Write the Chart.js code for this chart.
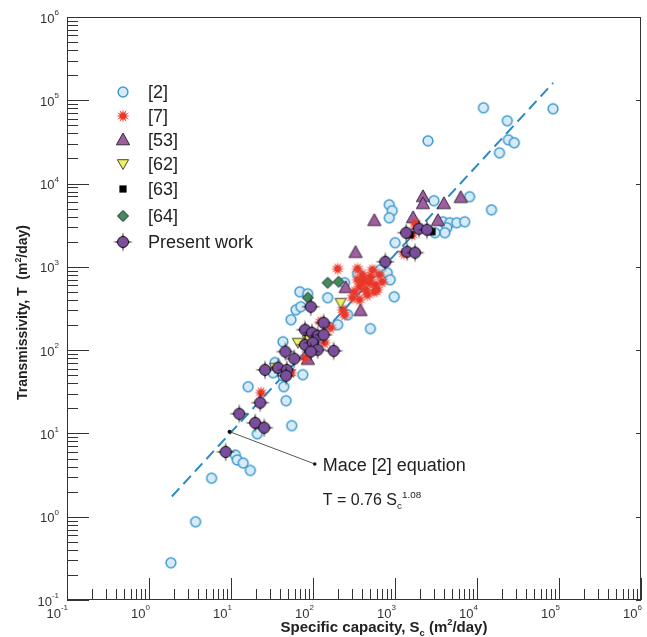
<!DOCTYPE html>
<html>
<head>
<meta charset="utf-8">
<script src="https://cdn.jsdelivr.net/npm/chart.js@4.4.0/dist/chart.umd.min.js"></script>
<style>
  body { margin: 0; background: #fff; }
</style>
</head>
<body>
<canvas id="plot" width="647" height="637"></canvas>
<script>
// values: specific capacity Sc and transmissivity T, both m2/day
const ref2Sc = [1.85, 3.7, 5.8, 11.3, 11.9, 14.1, 17.2, 20.9, 55, 47, 16.2, 44, 75, 43, 34.5, 32.6, 43, 54, 62, 71, 69, 86, 151, 243, 264, 200, 501, 349, 662, 805, 875, 978, 1005, 851, 925, 851, 2985, 8128, 3836, 4660, 5662, 7077, 4288, 4056, 3069, 15000, 2523, 12000, 84600, 23400, 24100, 28500, 18800];
const ref2T  = [0.28, 0.87, 2.9, 5.5, 4.8, 4.4, 3.6, 9.9, 12.4, 24.7, 36.4, 36.4, 50.7, 49, 71, 53.6, 126, 232, 305, 332, 502, 475, 426, 644, 266, 202, 181, 826, 923, 849, 700, 437, 1950, 5560, 4720, 3880, 6220, 6950, 3480, 3380, 3380, 3480, 2950, 2570, 2570, 4840, 32600, 81300, 79100, 56700, 33500, 30900, 23400];

const ref7Sc = [200, 1857, 1616, 1758, 1291, 230, 243, 124, 164, 139, 80, 54, 23.3, 349, 424, 369, 321, 501, 576, 461, 644, 401, 530, 609, 303, 369, 440, 490, 700, 560, 401, 349];
const ref7T  = [948, 3030, 2430, 3290, 1440, 305, 266, 219, 186, 123, 81, 53.6, 30.8, 948, 700, 577, 502, 761, 609, 462, 804, 804, 923, 531, 426, 403, 531, 644, 662, 502, 644, 700];

const ref53Sc = [2195, 2195, 3945, 6327, 1661, 3337, 560, 330, 250, 379, 86.5];
const ref53T  = [6940, 5720, 5720, 6760, 3880, 3580, 3580, 1480, 561, 297, 77];

const ref62Sc = [217, 65.5, 86.5, 34.5];
const ref62T  = [371, 123, 133, 61.5];

const ref63Sc = [1528, 2594, 2821];
const ref63T  = [2430, 2710, 2640];

const ref64Sc = [151, 205, 86.5];
const ref64T  = [644, 662, 426];

const presentSc = [94, 135, 80, 97, 114, 135, 46, 80, 99.5, 114, 94, 179, 59, 26, 37.5, 48, 47, 22.7, 12.6, 19.7, 25.4, 8.6, 1367, 1963, 2454, 1406, 1758, 761];
const presentT  = [332, 213, 176, 162, 149, 153, 96, 116, 123, 101, 96, 98, 79, 58, 61.5, 58, 49.3, 23.4, 17.2, 13.4, 11.7, 6.0, 2570, 2870, 2790, 1520, 1480, 1150];

// Mace [2] equation line, ends as drawn
const maceSc = [1.9, 85000];
const maceT  = [1.75, 162000];

const seriesNames = ['[2]', '[7]', '[53]', '[62]', '[63]', '[64]', 'Present work'];
const decades = [-1, 0, 1, 2, 3, 4, 5, 6];

function pts(xs, ys) { return xs.map((v, i) => ({ x: v, y: ys[i] })); }

function marker(kind) {
  const c = document.createElement('canvas');
  c.width = 24; c.height = 24;
  const g = c.getContext('2d');
  g.translate(12, 12);
  g.lineJoin = 'round';
  function poly(p) { g.beginPath(); g.moveTo(p[0], p[1]); for (let i = 2; i < p.length; i += 2) g.lineTo(p[i], p[i + 1]); g.closePath(); }
  if (kind === 'circle') {
    g.beginPath(); g.arc(0, 0, 4.9, 0, Math.PI * 2);
    g.fillStyle = '#d6ebf7'; g.fill();
    g.strokeStyle = '#3f9bd0'; g.lineWidth = 1.5; g.stroke();
  } else if (kind === 'burst') {
    const p = [];
    for (let i = 0; i < 24; i++) {
      const r = i % 2 ? 3 : 7;
      const a = i * Math.PI / 12;
      p.push(r * Math.cos(a), r * Math.sin(a));
    }
    poly(p); g.fillStyle = '#e8392b'; g.fill();
  } else if (kind === 'up') {
    poly([0, -7, 6.6, 4.8, -6.6, 4.8]);
    g.fillStyle = '#9e5f9f'; g.fill();
    g.strokeStyle = '#3a2440'; g.lineWidth = 1; g.stroke();
  } else if (kind === 'down') {
    poly([0, 5.5, 5.6, -4.3, -5.6, -4.3]);
    g.fillStyle = '#eef25c'; g.fill();
    g.strokeStyle = '#444'; g.lineWidth = 1; g.stroke();
  } else if (kind === 'square') {
    g.fillStyle = '#000'; g.fillRect(-3.6, -3.6, 7.2, 7.2);
  } else if (kind === 'diamond') {
    poly([0, -5.5, 5.5, 0, 0, 5.5, -5.5, 0]);
    g.fillStyle = '#3f8d5e'; g.fill();
    g.strokeStyle = '#222'; g.lineWidth = 1; g.stroke();
  } else if (kind === 'present') {
    poly([0, -10, 1.5, -1.5, 10, 0, 1.5, 1.5, 0, 10, -1.5, 1.5, -10, 0, -1.5, -1.5]);
    g.fillStyle = '#1c1c1c'; g.fill();
    g.beginPath(); g.arc(0, 0, 5.5, 0, Math.PI * 2);
    g.fillStyle = '#7a4e9c'; g.fill();
    g.strokeStyle = '#111'; g.lineWidth = 1; g.stroke();
  }
  return c;
}

const markers = ['circle', 'burst', 'up', 'down', 'square', 'diamond', 'present'].map(marker);

const FONT = '"Liberation Sans", Arial, sans-serif';

function drawPow(ctx, e, xRight, yMid) {
  ctx.font = '13px ' + FONT;
  const base = '10', ex = String(e);
  const wb = ctx.measureText(base).width;
  ctx.font = '8px ' + FONT;
  const we = ctx.measureText(ex).width;
  const x0 = xRight - wb - we;
  ctx.font = '13px ' + FONT;
  ctx.textBaseline = 'middle';
  ctx.textAlign = 'left';
  ctx.fillText(base, x0, yMid + 1);
  ctx.font = '8px ' + FONT;
  ctx.fillText(ex, x0 + wb, yMid - 5);
}

// parts: [text, 0 normal | 1 superscript | -1 subscript]
function mixed(ctx, parts, x, y, size, weight, align) {
  const f = s => weight + ' ' + s + 'px ' + FONT;
  const w = parts.map(p => { ctx.font = f(p[1] ? size * 0.62 : size); return ctx.measureText(p[0]).width; });
  const total = w.reduce((q, r) => q + r, 0);
  let cx = align === 'center' ? x - total / 2 : x;
  ctx.textAlign = 'left';
  ctx.textBaseline = 'alphabetic';
  parts.forEach((p, i) => {
    ctx.font = f(p[1] ? size * 0.62 : size);
    const dy = p[1] === 1 ? -size * 0.45 : p[1] === -1 ? size * 0.25 : 0;
    ctx.fillText(p[0], cx, y + dy);
    cx += w[i];
  });
}

const decor = {
  id: 'decor',
  afterDraw(chart) {
    const { ctx, chartArea: a, scales: { x, y } } = chart;
    ctx.save();
    ctx.strokeStyle = '#333';
    ctx.lineWidth = 1;
    ctx.strokeRect(a.left + 0.5, a.top + 0.5, a.right - a.left - 1, a.bottom - a.top - 1);
    ctx.beginPath();
    decades.forEach(e => {
      for (let m = 1; m <= 9; m++) {
        const v = m * Math.pow(10, e);
        if (v > 1e6) break;
        const len = m === 1 ? 22 : 11;
        const px = Math.round(x.getPixelForValue(v)) + 0.5;
        ctx.moveTo(px, a.bottom); ctx.lineTo(px, a.bottom - len);
        const py = Math.round(y.getPixelForValue(v)) + 0.5;
        ctx.moveTo(a.left, py); ctx.lineTo(a.left + len, py);
        if (m === 1) { ctx.moveTo(a.right, py); ctx.lineTo(a.right - 5, py); }
      }
    });
    ctx.stroke();

    ctx.fillStyle = '#333';
    decades.forEach(e => {
      const v = Math.pow(10, e);
      drawPow(ctx, e, x.getPixelForValue(v) + 1, a.bottom + 13);
      drawPow(ctx, e, a.left - 8, y.getPixelForValue(v) + 1);
    });

    // axis titles
    ctx.fillStyle = '#222';
    mixed(ctx, [['Specific capacity, S', 0], ['c', -1], [' (m', 0], ['2', 1], ['/day)', 0]],
      (a.left + a.right) / 2 + 30, 632, 15, 'bold', 'center');
    ctx.save();
    ctx.translate(27, (a.top + a.bottom) / 2 + 4);
    ctx.rotate(-Math.PI / 2);
    mixed(ctx, [['Transmissivity, T  (m', 0], ['2', 1], ['/day)', 0]], 0, 0, 14, 'bold', 'center');
    ctx.restore();

    // legend
    const rows = [92, 116, 140, 164, 189, 216, 242];
    ctx.fillStyle = '#222';
    seriesNames.forEach((n, i) => {
      const m = markers[i];
      ctx.drawImage(m, 123 - m.width / 2, rows[i] - m.height / 2);
      ctx.font = '18px ' + FONT;
      ctx.textAlign = 'left';
      ctx.textBaseline = 'middle';
      ctx.fillText(n, 148, rows[i] + 1);
    });

    // annotation for the Mace equation
    const sx = x.getPixelForValue(9.6), sy = y.getPixelForValue(10.5);
    const ex = x.getPixelForValue(105), ey = y.getPixelForValue(4.3);
    ctx.strokeStyle = '#555';
    ctx.lineWidth = 1;
    ctx.beginPath(); ctx.moveTo(sx, sy); ctx.lineTo(ex, ey); ctx.stroke();
    ctx.fillStyle = '#111';
    ctx.beginPath(); ctx.arc(sx, sy, 2, 0, Math.PI * 2); ctx.fill();
    ctx.beginPath(); ctx.arc(ex, ey, 1.8, 0, Math.PI * 2); ctx.fill();
    ctx.fillStyle = '#222';
    ctx.font = '18px ' + FONT;
    ctx.textAlign = 'left';
    ctx.textBaseline = 'alphabetic';
    ctx.fillText('Mace [2] equation', ex + 8, ey + 7);
    mixed(ctx, [['T = 0.76 S', 0], ['c', -1], ['1.08', 1]], ex + 8, ey + 41, 16, 'normal', 'left');
    ctx.restore();
  }
};

const sets = [
  [ref2Sc, ref2T], [ref7Sc, ref7T], [ref53Sc, ref53T], [ref62Sc, ref62T],
  [ref63Sc, ref63T], [ref64Sc, ref64T], [presentSc, presentT]
];
const drawOrder = [6, 3, 4, 2, 1, 5, 0]; // lower = on top

const datasets = sets.map((s, i) => ({
  label: seriesNames[i],
  data: pts(s[0], s[1]),
  pointStyle: markers[i],
  pointRadius: 5,
  order: drawOrder[i]
}));
datasets.push({
  label: 'Mace [2] equation',
  type: 'line',
  data: pts(maceSc, maceT),
  borderColor: '#2b8bc6',
  borderWidth: 2,
  borderDash: [11, 6],
  pointRadius: 0,
  fill: false,
  order: 7
});

new Chart(document.getElementById('plot'), {
  type: 'scatter',
  data: { datasets },
  options: {
    responsive: false,
    animation: false,
    layout: { padding: { left: 67, right: 2, top: 17, bottom: 37 } },
    plugins: { legend: { display: false }, tooltip: { enabled: false } },
    scales: {
      x: { type: 'logarithmic', min: 0.1, max: 1e6, display: false },
      y: { type: 'logarithmic', min: 0.1, max: 1e6, display: false }
    }
  },
  plugins: [decor]
});
</script>
</body>
</html>
